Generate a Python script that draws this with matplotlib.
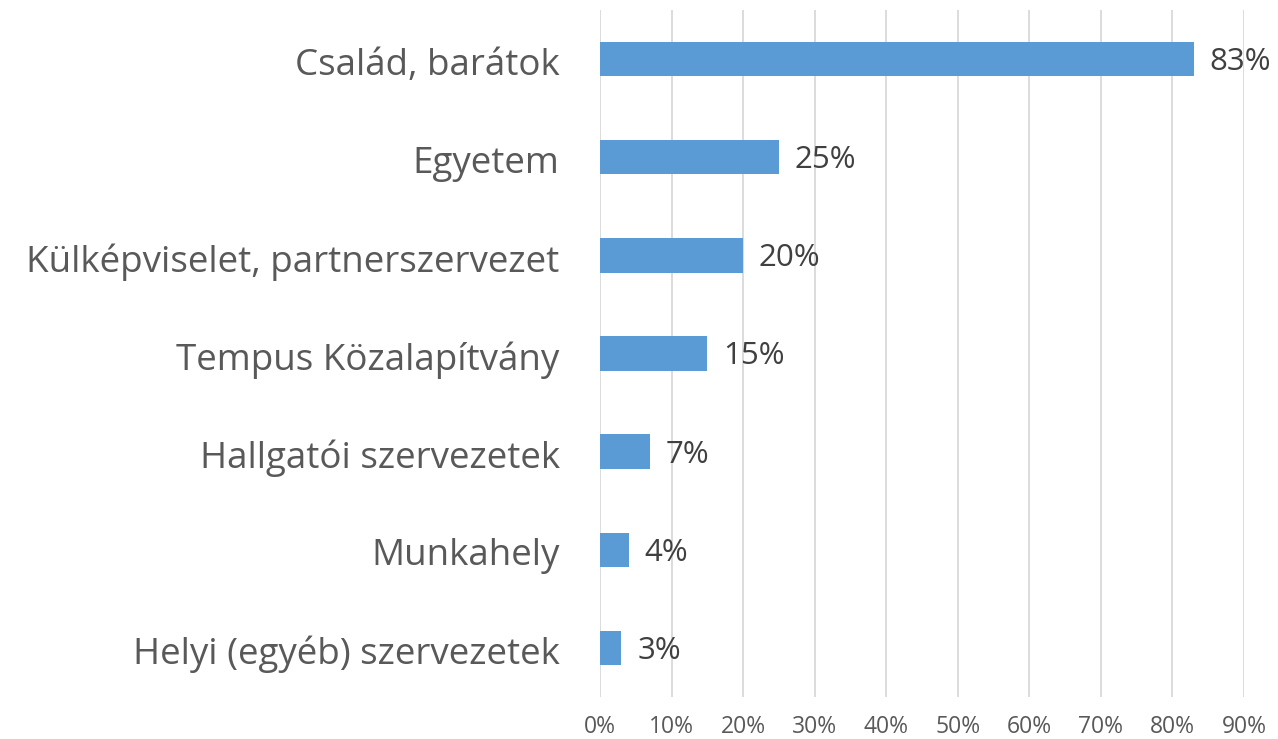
import numpy as np
import matplotlib.pyplot as plt
from matplotlib.ticker import FuncFormatter

# values (top to bottom)
categories = ['Család, barátok', 'Egyetem', 'Külképviselet, partnerszervezet',
              'Tempus Közalapítvány', 'Hallgatói szervezetek', 'Munkahely',
              'Helyi (egyéb) szervezetek']
shares = [0.83, 0.25, 0.20, 0.15, 0.07, 0.04, 0.03]
ticks = [0, 0.1, 0.2, 0.3, 0.4, 0.5, 0.6, 0.7, 0.8, 0.9]

plt.rcParams['font.family'] = ['Open Sans', 'DejaVu Sans']

W, H = 1278, 739
fig = plt.figure(figsize=(W / 100, H / 100), dpi=100)
ax = fig.add_axes([600 / W, 1 - 697 / H, (1244 - 600) / W, (697 - 10) / H])

y = np.arange(len(categories))[::-1]
ax.barh(y, shares, height=0.35, color='#5B9BD5', zorder=3)

for yi, v in zip(y, shares):
    ax.text(v + 0.022, yi - 0.03, f'{v * 100:.0f}%', va='center', ha='left',
            fontsize=22.5, color='#404040')

ax.set_xlim(0, 0.9)
ax.set_ylim(-0.5, len(categories) - 0.5)
ax.set_xticks(ticks)
ax.xaxis.set_major_formatter(FuncFormatter(lambda v, p: f'{v * 100:.0f}%'))
ax.set_yticks(y - 0.02)
ax.set_yticklabels(categories)
ax.tick_params(axis='y', length=0, pad=29, labelsize=26.5, labelcolor='#595959')
ax.tick_params(axis='x', length=0, pad=13, labelsize=16.5, labelcolor='#595959')
ax.grid(axis='x', color='#D9D9D9', linewidth=1.3, zorder=0)
for s in ax.spines.values():
    s.set_visible(False)

fig.savefig('out.png', dpi=100)
